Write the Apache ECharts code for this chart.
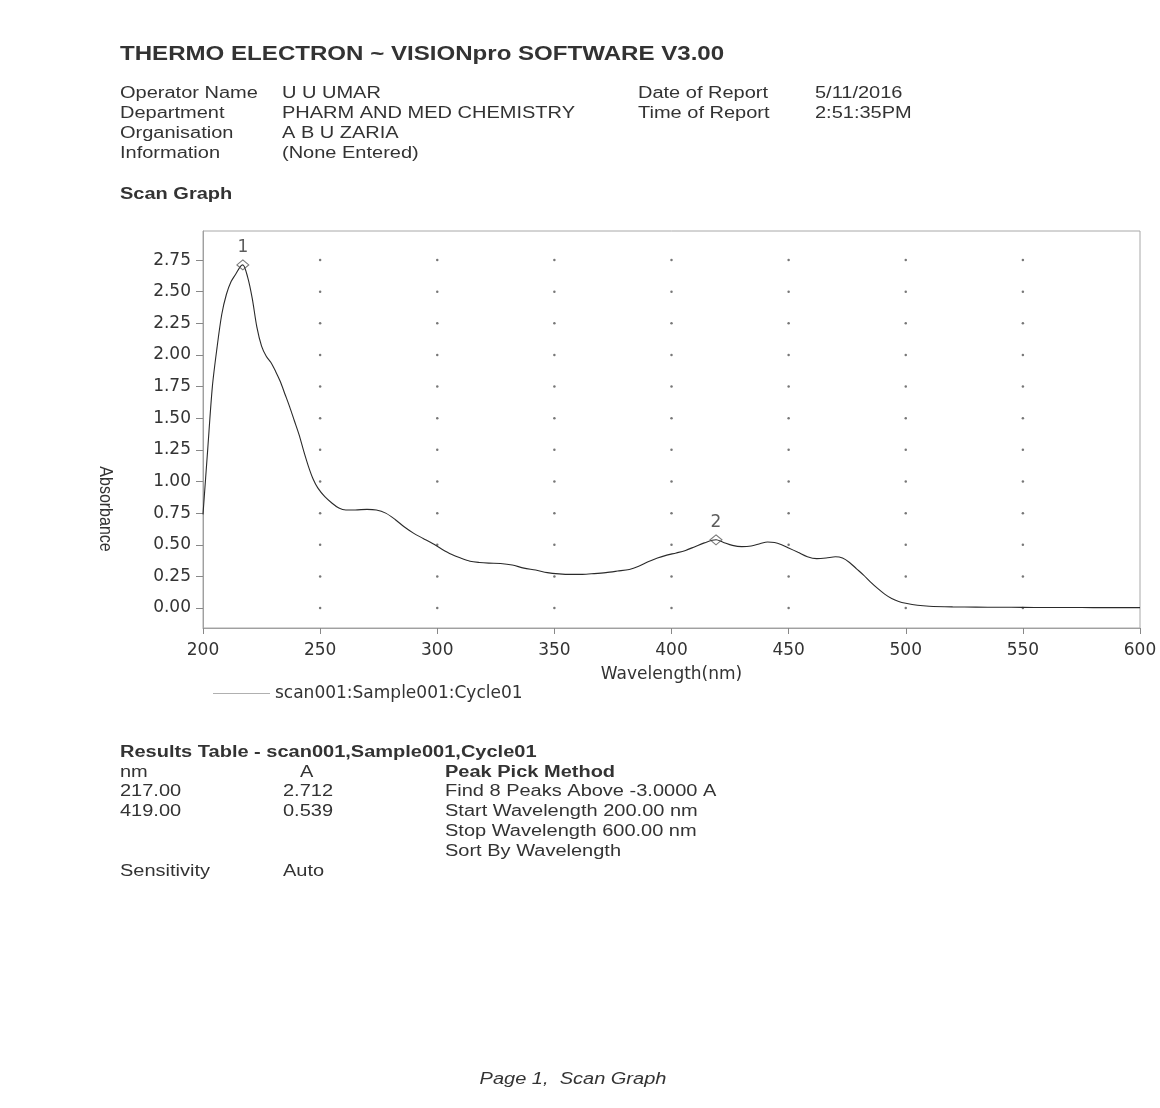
<!DOCTYPE html>
<html>
<head>
<meta charset="utf-8">
<script src="https://cdn.jsdelivr.net/npm/echarts@6/dist/echarts.min.js"></script>
<style>
  html, body { margin: 0; padding: 0; background: #fff; }
</style>
</head>
<body>
<div id="main" style="width:1160px;height:1108px;"></div>
<script>
// scan data
var wavelength = [200, 202, 204, 206, 208, 210, 212, 214, 216, 217, 219, 221, 223, 225, 227, 229, 231, 233, 235, 237,
    239, 241, 243, 245, 247, 249, 252, 255, 258, 261, 265, 270, 274, 278, 282, 286, 290, 294, 298, 302,
    306, 310, 314, 318, 322, 327, 332, 337, 342, 347, 352, 357, 362, 367, 372, 377, 382, 386, 390, 394,
    398, 402, 406, 410, 414, 419, 422, 426, 430, 434, 438, 441, 444, 447, 450, 454, 458, 462, 466, 470,
    473, 476, 479, 482, 485, 488, 491, 494, 497, 500, 505, 510, 520, 530, 540, 550, 560, 570, 580, 590, 600];
var absorbance = [0.74, 1.25, 1.75, 2.06, 2.32, 2.48, 2.58, 2.64, 2.70, 2.712, 2.62, 2.45, 2.22, 2.07, 1.99, 1.94, 1.87, 1.79, 1.69, 1.59,
    1.48, 1.37, 1.24, 1.12, 1.02, 0.95, 0.88, 0.83, 0.79, 0.775, 0.775, 0.78, 0.775, 0.75, 0.70, 0.64, 0.59, 0.55, 0.51, 0.465,
    0.425, 0.395, 0.37, 0.36, 0.355, 0.352, 0.34, 0.315, 0.30, 0.28, 0.27, 0.266, 0.266, 0.272, 0.28, 0.292, 0.305, 0.33, 0.365, 0.395,
    0.418, 0.435, 0.455, 0.485, 0.515, 0.539, 0.52, 0.495, 0.485, 0.49, 0.51, 0.522, 0.518, 0.50, 0.475, 0.44, 0.405, 0.39, 0.395, 0.405,
    0.395, 0.36, 0.31, 0.26, 0.205, 0.155, 0.11, 0.075, 0.052, 0.038, 0.022, 0.014, 0.009, 0.007, 0.006, 0.005, 0.004, 0.004, 0.003, 0.003, 0.003];

// picked peaks
var peakNm = [217, 419];
var peakA = [2.712, 0.539];
var peakLabels = ['1', '2'];

// axis ticks
var xTicks = [250, 300, 350, 400, 450, 500, 550];
var yTicks = [0, 0.25, 0.5, 0.75, 1, 1.25, 1.5, 1.75, 2, 2.25, 2.5, 2.75];

var seriesName = 'scan001:Sample001:Cycle01';

var myChart = echarts.init(document.getElementById('main'));

// the scanned page is a bit wider than tall, so the printed text is stretched
function txt(x, y, s, size, extra) {
    var el = {
        type: 'text',
        x: x,
        y: y,
        scaleX: 1.25,
        silent: true,
        style: {
            text: s,
            fontSize: size,
            fontFamily: 'Liberation Sans',
            fill: '#333',
            align: 'left',
            verticalAlign: 'middle'
        }
    };
    if (extra) {
        for (var k in extra) el.style[k] = extra[k];
    }
    return el;
}

var gridDots = [];
xTicks.forEach(function (x) {
    yTicks.forEach(function (y) {
        gridDots.push([x, y]);
    });
});

var title = txt(120, 55, 'THERMO ELECTRON ~ VISIONpro SOFTWARE V3.00', 19.5, { fontWeight: 'bold' });
title.scaleX = 1.235;

var graphics = [
    title,
    txt(120, 94, 'Operator Name', 16), txt(282, 94, 'U U UMAR', 16),
    txt(120, 114, 'Department', 16), txt(282, 114, 'PHARM AND MED CHEMISTRY', 16),
    txt(120, 134, 'Organisation', 16), txt(282, 134, 'A B U ZARIA', 16),
    txt(120, 154, 'Information', 16), txt(282, 154, '(None Entered)', 16),
    txt(638, 94, 'Date of Report', 16), txt(815, 94, '5/11/2016', 16),
    txt(638, 114, 'Time of Report', 16), txt(815, 114, '2:51:35PM', 16),
    txt(120, 195, 'Scan Graph', 16, { fontWeight: 'bold' }),

    txt(120, 753, 'Results Table - scan001,Sample001,Cycle01', 16, { fontWeight: 'bold' }),
    txt(120, 773, 'nm', 16), txt(300, 773, 'A', 16),
    txt(445, 773, 'Peak Pick Method', 16, { fontWeight: 'bold' }),
    txt(445, 792, 'Find 8 Peaks Above -3.0000 A', 16),
    txt(445, 812, 'Start Wavelength 200.00 nm', 16),
    txt(445, 832, 'Stop Wavelength 600.00 nm', 16),
    txt(445, 852, 'Sort By Wavelength', 16),
    txt(120, 872, 'Sensitivity', 16), txt(283, 872, 'Auto', 16),

    txt(573, 1080, 'Page 1,  Scan Graph', 16, { fontStyle: 'italic', align: 'center' }),
    {
        type: 'text',
        x: 105,
        y: 509,
        rotation: -Math.PI / 2,
        scaleY: 1.2,
        silent: true,
        style: {
            text: 'Absorbance',
            fontSize: 16,
            fontFamily: 'Liberation Sans',
            fill: '#333',
            align: 'center',
            verticalAlign: 'middle'
        }
    }
];

// peak table rows from the picked peaks
peakNm.forEach(function (nm, i) {
    graphics.push(txt(120, 792 + i * 20, nm.toFixed(2), 16));
    graphics.push(txt(283, 792 + i * 20, peakA[i].toFixed(3), 16));
});

var option = {
    backgroundColor: '#fff',
    animation: false,
    textStyle: { fontFamily: 'DejaVu Sans' },
    grid: {
        left: 203,
        right: 20,
        top: 231,
        bottom: 480,
        show: true,
        borderColor: '#a8a8a8',
        borderWidth: 1
    },
    legend: {
        data: [seriesName],
        left: 213,
        top: 685,
        padding: 0,
        icon: 'rect',
        itemWidth: 57,
        itemHeight: 1,
        itemStyle: { color: '#b0b0b0' },
        textStyle: { fontSize: 17, fontFamily: 'DejaVu Sans', color: '#333' }
    },
    xAxis: {
        type: 'value',
        min: 200,
        max: 600,
        interval: 50,
        name: 'Wavelength(nm)',
        nameLocation: 'middle',
        nameGap: 38,
        nameTextStyle: { fontSize: 17, color: '#333', fontFamily: 'DejaVu Sans' },
        axisLine: { show: true, onZero: false, lineStyle: { color: '#a0a0a0' } },
        axisTick: { show: true, length: 6, lineStyle: { color: '#888' } },
        axisLabel: { fontSize: 17, color: '#333', margin: 14 },
        splitLine: { show: false }
    },
    yAxis: {
        type: 'value',
        min: -0.158,
        max: 2.98,
        axisLine: { show: true, onZero: false, lineStyle: { color: '#a0a0a0' } },
        axisTick: { show: true, length: 7, customValues: yTicks, lineStyle: { color: '#888' } },
        axisLabel: {
            fontSize: 17,
            color: '#333',
            margin: 12,
            customValues: yTicks,
            formatter: function (v) { return v.toFixed(2); }
        },
        splitLine: { show: false }
    },
    graphic: graphics,
    series: [
        {
            name: 'grid dots',
            type: 'scatter',
            silent: true,
            symbolSize: 2.5,
            itemStyle: { color: '#555' },
            data: gridDots,
            z: 1
        },
        {
            name: seriesName,
            type: 'line',
            symbol: 'none',
            smooth: 0.3,
            itemStyle: { color: '#2a2a2a' },
            lineStyle: { color: '#2a2a2a', width: 1.1 },
            data: wavelength.map(function (w, i) { return [w, absorbance[i]]; }),
            z: 3
        },
        {
            name: 'peaks',
            type: 'scatter',
            symbol: 'diamond',
            symbolSize: [12, 10],
            itemStyle: { color: 'rgba(255,255,255,0)', borderColor: '#555', borderWidth: 1 },
            label: {
                show: true,
                position: 'top',
                distance: 3,
                fontSize: 17,
                color: '#333',
                formatter: function (p) { return peakLabels[p.dataIndex]; }
            },
            data: peakNm.map(function (n, i) { return [n, peakA[i]]; }),
            z: 4
        }
    ]
};

myChart.setOption(option);
</script>
</body>
</html>
